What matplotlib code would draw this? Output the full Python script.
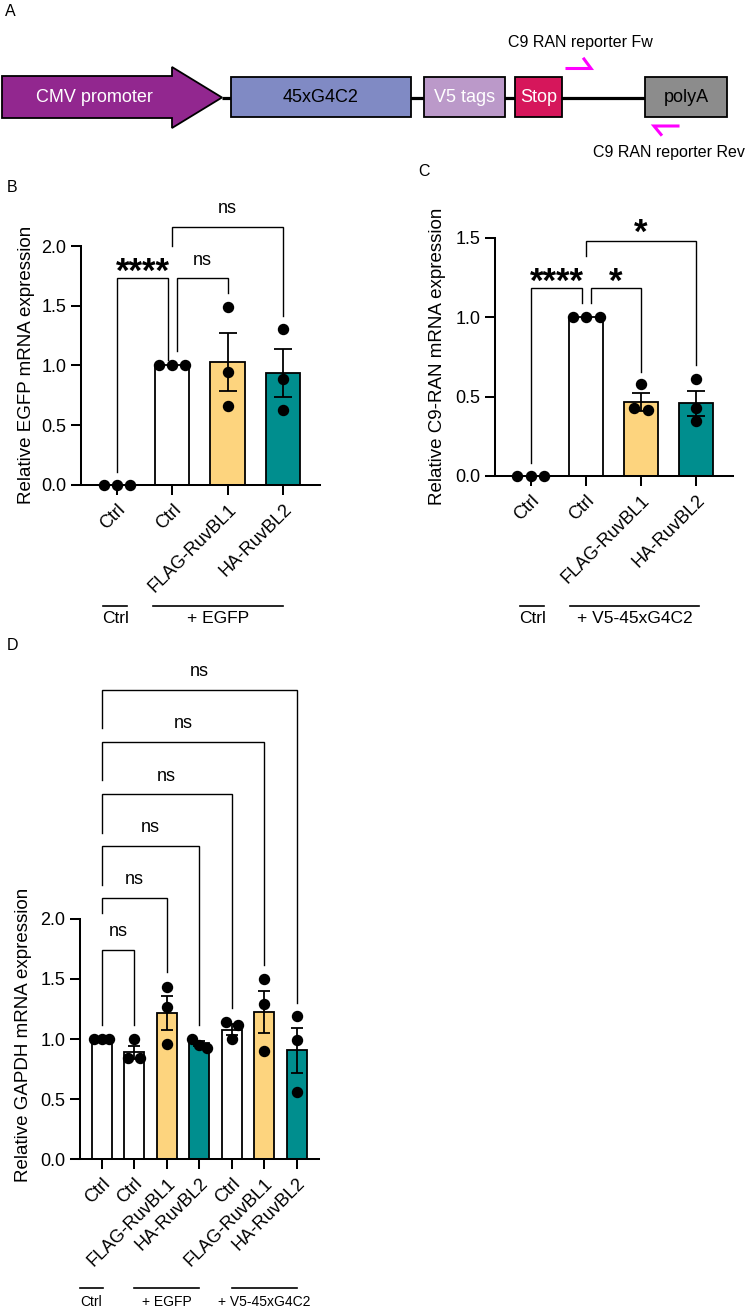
import numpy as np
import matplotlib
matplotlib.use('Agg')
import matplotlib.pyplot as plt
from matplotlib.patches import Polygon, Rectangle
import matplotlib.transforms as mtransforms

plt.rcParams['font.family'] = ['Liberation Sans', 'DejaVu Sans']

W, H, DPI = 746, 1307, 100

# ------------------------- data -------------------------
cats_B = ['Ctrl', 'Ctrl', 'FLAG-RuvBL1', 'HA-RuvBL2']
pts_B = [[0, 0, 0], [1, 1, 1], [1.49, 0.947, 0.66], [1.307, 0.888, 0.626]]
mean_B = [0.0, 1.0, 1.03, 0.935]
sem_B = [0.0, 0.0, 0.245, 0.20]
brk_B = [  # (x1, x2, top, left_bottom, right_bottom, label, label_y)
    (0, 0.93, 1.73, 0.106, 1.045, '****', 1.866),
    (1.09, 2, 1.73, 1.12, 1.607, 'ns', 1.883),
    (1, 3, 2.16, 2.0, 1.414, 'ns', 2.318),
]
groups_B = [('Ctrl', -0.25, 0.18), ('+ EGFP', 0.65, 3.0)]

cats_C = ['Ctrl', 'Ctrl', 'FLAG-RuvBL1', 'HA-RuvBL2']
pts_C = [[0, 0, 0], [1, 1, 1], [0.577, 0.415, 0.426], [0.61, 0.43, 0.348]]
mean_C = [0.0, 1.0, 0.468, 0.458]
sem_C = [0.0, 0.0, 0.056, 0.08]
brk_C = [
    (0, 0.93, 1.181, 0.08, 1.087, '****', 1.286),
    (1.09, 2, 1.181, 1.087, 0.656, '*', 1.286),
    (1, 3, 1.481, 1.385, 0.699, '*', 1.59),
]
groups_C = [('Ctrl', -0.2, 0.24), ('+ V5-45xG4C2', 0.71, 3.05)]

cats_D = ['Ctrl', 'Ctrl', 'FLAG-RuvBL1', 'HA-RuvBL2', 'Ctrl', 'FLAG-RuvBL1', 'HA-RuvBL2']
pts_D = [[1, 1, 1], [1.0, 0.839, 0.839], [1.43, 1.27, 0.958], [1.0, 0.922, 0.95],
         [1.139, 1.117, 1.0], [1.5, 1.29, 0.903], [1.194, 0.992, 0.556]]
mean_D = [1.0, 0.89, 1.215, 0.965, 1.078, 1.225, 0.905]
sem_D = [0.0, 0.055, 0.14, 0.02, 0.045, 0.175, 0.19]
brk_D_right = [1, 2, 3, 4, 5, 6]
brk_D_top = [1.742, 2.173, 2.608, 3.039, 3.473, 3.908]
brk_D_left_bottom = [1.117, 2.05, 2.283, 2.72, 3.158, 3.592]
brk_D_right_bottom = [1.117, 1.56, 1.117, 1.258, 1.617, 1.30]
brk_D_label_y = [1.894, 2.33, 2.76, 3.19, 3.63, 4.06]
groups_D = [('Ctrl', -0.67, 0.04), ('+ EGFP', 1.0, 3.0), ('+ V5-45xG4C2', 4.0, 6.0)]

YEL = '#FDD47E'
TEAL = '#008E8E'
cols_B = ['white', 'white', YEL, TEAL]
cols_C = ['white', 'white', YEL, TEAL]
cols_D = ['white', 'white', YEL, TEAL, 'white', YEL, TEAL]

# ------------------------- figure -------------------------
fig = plt.figure(figsize=(W / DPI, H / DPI), dpi=DPI)


def add_ax_px(left, top, right, bottom):
    return fig.add_axes([left / W, 1 - bottom / H, (right - left) / W, (bottom - top) / H])


# overlay axes in pixel coordinates (panel A + panel letters)
ov = fig.add_axes([0, 0, 1, 1])
ov.set_xlim(0, W)
ov.set_ylim(H, 0)
ov.axis('off')

for letter, (lx, ly) in {'A': (10, 11), 'B': (12, 188), 'C': (424, 172), 'D': (12, 645)}.items():
    ov.text(lx, ly, letter, fontsize=11.5, ha='center', va='center')

# ---- panel A schematic ----
yc = 97.5
ov.plot([222, 645], [yc, yc], color='black', lw=2.3, solid_capstyle='butt', zorder=1)
ov.add_patch(Polygon([(2, 76), (172, 76), (172, 67), (222, yc), (172, 128), (172, 118), (2, 118)],
                     closed=True, facecolor='#92278F', edgecolor='black', lw=1.3, zorder=2))
ov.text(94, yc, 'CMV promoter', color='white', fontsize=13, ha='center', va='center', zorder=3)
boxes_A = [(231, 411, '#808AC4', '45xG4C2', 'black'),
           (424, 505, '#BB99C9', 'V5 tags', 'white'),
           (515, 562, '#D6165B', 'Stop', 'white'),
           (645, 727, '#8C8C8C', 'polyA', 'black')]
for x0, x1, fc, lab, tc in boxes_A:
    ov.add_patch(Rectangle((x0, 77), x1 - x0, 40, facecolor=fc, edgecolor='black', lw=1.3, zorder=2))
    ov.text((x0 + x1) / 2, yc, lab, color=tc, fontsize=13, ha='center', va='center', zorder=3)
# primers (half arrows)
ov.plot([567, 591, 584], [68.5, 68.5, 59], color='#FF00FF', lw=2.2, solid_joinstyle='miter', zorder=3)
ov.plot([678, 654, 661], [126, 126, 134.5], color='#FF00FF', lw=2.2, solid_joinstyle='miter', zorder=3)
ov.text(580, 42, 'C9 RAN reporter Fw', fontsize=11.5, ha='center', va='center')
ov.text(745, 153, 'C9 RAN reporter Rev', fontsize=11.5, ha='right', va='center')


# ------------------------- helpers -------------------------
def swarm_offsets(ax, vals, xc, thr, sep):
    vals = np.asarray(vals, float)
    p0 = ax.transData.transform((xc, 0))
    p1 = ax.transData.transform((xc + 1, 1))
    xpx, ypx = p1[0] - p0[0], p1[1] - p0[1]
    order = np.argsort(-vals, kind='stable')
    clusters = []
    for i in order:
        if clusters and abs(vals[clusters[-1][-1]] - vals[i]) * ypx < thr:
            clusters[-1].append(i)
        else:
            clusters.append([i])
    off = np.zeros(len(vals))
    for c in clusters:
        n = len(c)
        s = sep if n > 2 else max(sep, 12)
        for k, i in enumerate(c):
            off[i] = (k - (n - 1) / 2) * s / xpx
    return off


def ink_text(ax, x, y, s, fs, bold=False, k=0.26):
    tr = mtransforms.offset_copy(ax.transData, fig=fig, x=0, y=-k * fs, units='points')
    ax.text(x, y, s, transform=tr, fontsize=fs, ha='center', va='baseline',
            fontweight='bold' if bold else 'normal', clip_on=False)


def bracket(ax, x1, x2, top, lb, rb, lw=1.0):
    ax.plot([x1, x1, x2, x2], [lb, top, top, rb], color='black', lw=lw,
            solid_joinstyle='miter', clip_on=False, zorder=4)


def bar_panel(ax, cats, pts, means, sems, cols, xlim, ylim, spine_x, ybound, yticks,
              sep, capsize, ylabel, ylab_px):
    x = np.arange(len(cats))
    ax.set_xlim(*xlim)
    ax.set_ylim(*ylim)
    ax.bar(x, means, width=0.62, color=cols, edgecolor='black', linewidth=1.3, zorder=2)
    for xi, m, s in zip(x, means, sems):
        if s > 0:
            ax.errorbar(xi, m, yerr=s, fmt='none', ecolor='black', elinewidth=1.3,
                        capsize=capsize, capthick=1.3, zorder=3)
    for xi, vals in zip(x, pts):
        off = swarm_offsets(ax, vals, xi, 9.5, sep)
        ax.plot(xi + off, vals, 'o', color='black', ms=7.2, mec='black', zorder=5, clip_on=False)
    for sp in ['top', 'right']:
        ax.spines[sp].set_visible(False)
    ax.spines['left'].set_position(('data', spine_x))
    ax.spines['left'].set_bounds(*ybound)
    for sp in ['left', 'bottom']:
        ax.spines[sp].set_linewidth(1.45)
    ax.set_yticks(yticks)
    ax.set_yticklabels([f'{v:.1f}' for v in yticks])
    ax.set_xticks(x)
    ax.set_xticklabels(cats, rotation=45, ha='right', va='top', rotation_mode='anchor')
    ax.tick_params(axis='both', length=7.0, width=1.45, labelsize=13, color='black')
    ax.tick_params(axis='y', pad=3.5)
    ax.tick_params(axis='x', pad=4.5)
    ax.patch.set_alpha(0)
    ov.text(ylab_px[0], ylab_px[1], ylabel, rotation=90, fontsize=13.5, ha='center', va='center')


def group_labels(ax, groups, line_y, text_y, fs):
    tr = mtransforms.blended_transform_factory(ax.transData, ov.transData)
    for lab, x0, x1 in groups:
        ax.plot([x0, x1], [line_y, line_y], color='black', lw=1.2, transform=tr, clip_on=False)
        ax.text((x0 + x1) / 2, text_y, lab, transform=tr, fontsize=fs, ha='center',
                va='baseline', clip_on=False)


# ------------------------- panel B -------------------------
axB = add_ax_px(72.2, 192.4, 320, 484.7)
bar_panel(axB, cats_B, pts_B, mean_B, sem_B, cols_B, (-0.81, 3.67), (0, 2.45), -0.651, (0, 2),
          [0, 0.5, 1.0, 1.5, 2.0], 13, 6.8, 'Relative EGFP mRNA expression', (27, 365))
for x1, x2, top, lb, rb, lab, ly in brk_B:
    bracket(axB, x1, x2, top, lb, rb)
    if '*' in lab:
        ink_text(axB, (x1 + x2) / 2, ly, lab, 25, bold=True, k=0.57)
    else:
        ink_text(axB, (x1 + x2) / 2, ly, lab, 13)
group_labels(axB, groups_B, 606, 623, 12.5)

# ------------------------- panel C -------------------------
axC = add_ax_px(486, 198, 733, 476)
bar_panel(axC, cats_C, pts_C, mean_C, sem_C, cols_C, (-0.817, 3.67), (0, 1.75), -0.653, (0, 1.5),
          [0, 0.5, 1.0, 1.5], 13.5, 6.6, 'Relative C9-RAN mRNA expression', (437, 356))
for x1, x2, top, lb, rb, lab, ly in brk_C:
    bracket(axC, x1, x2, top, lb, rb)
    ink_text(axC, (x1 + x2) / 2, ly, lab, 25, bold=True, k=0.57)
group_labels(axC, groups_C, 606, 623, 12.5)

# ------------------------- panel D -------------------------
axD = add_ax_px(70.7, 649, 319, 1159)
bar_panel(axD, cats_D, pts_D, mean_D, sem_D, cols_D, (-0.954, 6.686), (0, 4.25), -0.668, (0, 2),
          [0, 0.5, 1.0, 1.5, 2.0], 7.7, 4.2, 'Relative GAPDH mRNA expression', (24, 1035))
for xr, top, lb, rb, ly in zip(brk_D_right, brk_D_top, brk_D_left_bottom, brk_D_right_bottom, brk_D_label_y):
    bracket(axD, 0, xr, top, lb, rb)
    ink_text(axD, xr / 2, ly, 'ns', 13)
group_labels(axD, groups_D, 1288, 1306, 10)

fig.savefig('out.png', dpi=DPI)
